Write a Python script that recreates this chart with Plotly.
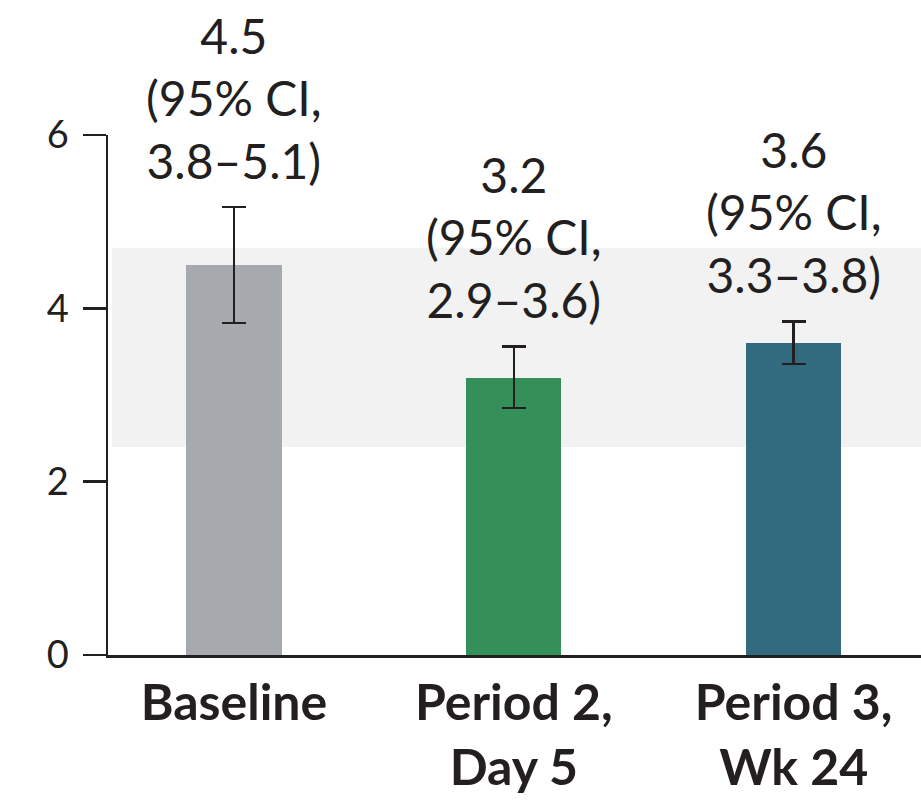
import plotly.graph_objects as go

categories = ["Baseline", "Period 2,<br>Day 5", "Period 3,<br>Wk 24"]
means = [4.5, 3.2, 3.6]
ci_low = [3.83, 2.85, 3.36]
ci_high = [5.17, 3.56, 3.85]
ci_text = ["3.8–5.1", "2.9–3.6", "3.3–3.8"]
bar_colors = ["#a6a9ae", "#358f58", "#326a80"]
band_range = [2.4, 4.7]
y_ticks = [0, 2, 4, 6]

FONT = "Lato"
INK = "#231f20"

fig = go.Figure()
fig.add_trace(go.Bar(
    x=categories,
    y=means,
    width=0.34,
    marker=dict(color=bar_colors, line=dict(width=0)),
    error_y=dict(
        type="data",
        symmetric=False,
        array=[h - m for h, m in zip(ci_high, means)],
        arrayminus=[m - l for m, l in zip(means, ci_low)],
        color=INK,
        thickness=2.5,
        width=12,
    ),
    hoverinfo="skip",
))

fig.add_shape(
    type="rect", xref="paper", x0=0.005, x1=1, yref="y",
    y0=band_range[0], y1=band_range[1],
    fillcolor="#f2f2f2", line=dict(width=0), layer="below",
)

for cat, m, hi, txt in zip(categories, means, ci_high, ci_text):
    fig.add_annotation(
        x=cat, y=hi, xref="x", yref="y",
        text=f"{m:.1f}<br>(95% CI,<br>{txt})",
        showarrow=False, yanchor="bottom", yshift=16,
        font=dict(family=FONT, size=48, color=INK),
    )

fig.update_layout(
    width=921, height=801,
    margin=dict(l=108, r=0, t=135, b=146),
    plot_bgcolor="white", paper_bgcolor="white",
    showlegend=False,
    bargap=0,
)
fig.update_xaxes(
    range=[-0.45, 2.455],
    showline=True, linecolor=INK, linewidth=2.5,
    ticks="", showgrid=False, zeroline=False,
    tickfont=dict(family=FONT, size=50, color=INK, weight="bold"),
    ticklabelstandoff=2,
)
fig.update_yaxes(
    range=[0, 6],
    tickvals=y_ticks,
    showline=True, linecolor=INK, linewidth=2.5,
    ticks="outside", ticklen=23, tickwidth=2.5, tickcolor=INK,
    showgrid=False, zeroline=False,
    tickfont=dict(family=FONT, size=38, color=INK),
    ticklabelstandoff=6,
)

fig.write_html(
    "out.html",
    config={"displayModeBar": False, "staticPlot": True},
    post_script="document.body.style.margin='0';document.body.style.overflow='hidden';",
)
